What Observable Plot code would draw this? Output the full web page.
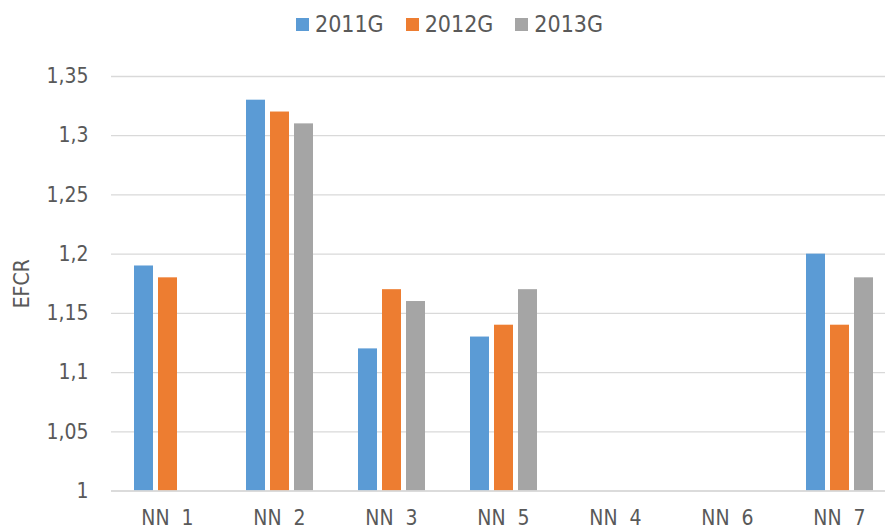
<!DOCTYPE html>
<html>
<head>
<meta charset="utf-8">
<script src="https://cdn.jsdelivr.net/npm/d3@7"></script>
<script src="https://cdn.jsdelivr.net/npm/@observablehq/plot@0.6"></script>
<style>
  html, body { margin: 0; padding: 0; background: #fff; }
  body { width: 885px; height: 531px; overflow: hidden; font-family: "Liberation Sans Narrow", "DejaVu Sans Condensed", "Open Sans", sans-serif; }
  #legend { height: 48px; display: flex; justify-content: center; align-items: center; gap: 22px; padding-left: 14px; box-sizing: border-box; color: #595959; font-size: 23px; }
  #legend .item { display: flex; align-items: center; gap: 6px; }
  #legend .sw { width: 13px; height: 13px; display: inline-block; }
  svg { white-space: pre; }
</style>
</head>
<body>
<div id="legend"></div>
<div id="chart"></div>
<script>
const categories = ["NN 1", "NN 2", "NN 3", "NN 5", "NN 4", "NN 6", "NN 7"];
const seriesNames = ["2011G", "2012G", "2013G"];
const seriesColors = ["#5b9bd5", "#ed7d31", "#a5a5a5"];
const values2011 = [1.19, 1.33, 1.12, 1.13, null, null, 1.20];
const values2012 = [1.18, 1.32, 1.17, 1.14, null, null, 1.14];
const values2013 = [null, 1.31, 1.16, 1.17, null, null, 1.18];
const yTicks = [1, 1.05, 1.1, 1.15, 1.2, 1.25, 1.3, 1.35];

const allValues = [values2011, values2012, values2013];
const data = [];
categories.forEach((c, i) => {
  seriesNames.forEach((s, j) => {
    data.push({cat: c, series: s, value: allValues[j][i]});
  });
});

// Legend
const legend = document.getElementById("legend");
seriesNames.forEach((s, j) => {
  const it = document.createElement("span");
  it.className = "item";
  const sw = document.createElement("span");
  sw.className = "sw";
  sw.style.background = seriesColors[j];
  const t = document.createElement("span");
  t.textContent = s;
  it.appendChild(sw); it.appendChild(t);
  legend.appendChild(it);
});

const chart = Plot.plot({
  width: 885,
  height: 483,
  marginLeft: 109,
  marginRight: 0,
  marginTop: 28,
  marginBottom: 40.5,
  style: {fontFamily: '"Liberation Sans Narrow", "DejaVu Sans Condensed", "Open Sans", sans-serif', fontSize: "21px", color: "#595959", background: "#fff"},
  fx: {domain: categories, range: [109, 897], padding: 0, label: null},
  x: {domain: seriesNames, paddingInner: 0.22, paddingOuter: 0.862, axis: null},
  y: {domain: [1, 1.35], ticks: yTicks, tickSize: 0, tickPadding: 23, tickFormat: d => String(d).replace(".", ","), label: "EFCR", labelAnchor: "center", labelOffset: 97, labelArrow: "none"},
  color: {domain: seriesNames, range: seriesColors},
  marks: [
    Plot.gridY(yTicks, {stroke: "#d9d9d9", strokeOpacity: 1, strokeWidth: 1.3}),
    Plot.barY(data, {fx: "cat", x: "series", y1: 1, y2: "value", fill: "series", inset: 0}),
    Plot.ruleY([1], {stroke: "#d9d9d9", strokeWidth: 1.3}),
    Plot.axisFx({anchor: "bottom", label: null, tickSize: 0, tickPadding: 19, fontSize: 21, tickFormat: d => d.replace(" ", "\u00a0\u00a0")})
  ]
});
document.getElementById("chart").appendChild(chart);
</script>
</body>
</html>
